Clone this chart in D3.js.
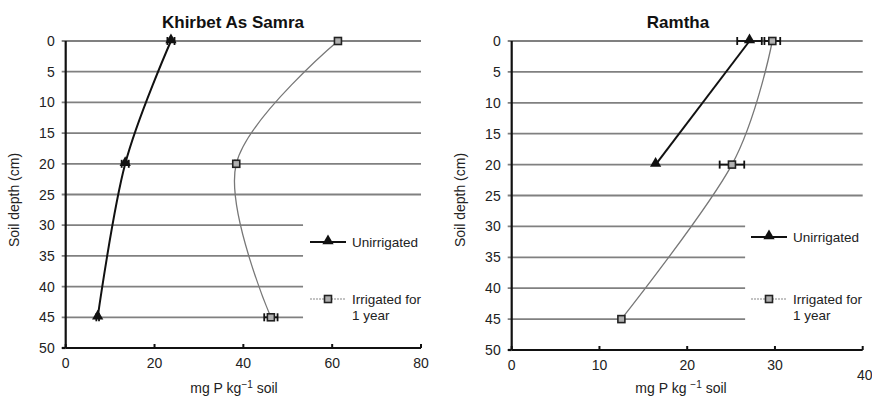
<!DOCTYPE html>
<html>
<head>
<meta charset="utf-8">
<script src="https://cdn.jsdelivr.net/npm/d3@7"></script>
<style>
  body { margin: 0; background: #fff; }
  svg { font-family: "Liberation Sans", Arial, sans-serif; }
</style>
</head>
<body>
<div id="chart"></div>
<script>
// depth ticks shared by both panels
const depthTicks = [0, 5, 10, 15, 20, 25, 30, 35, 40, 45, 50];

// Khirbet As Samra
const samraDepths = [0, 20, 45];
const samraUnirrigated = [23.7, 13.4, 7.2];
const samraUnirrigatedErr = [0.8, 0.8, 0.3];
const samraIrrigated = [61.3, 38.4, 46.2];
const samraIrrigatedErr = [0.3, 0.3, 1.5];
const samraXTicks = [0, 20, 40, 60, 80];

// Ramtha
const ramthaUnirrDepths = [0, 20];
const ramthaUnirrigated = [27.1, 16.4];
const ramthaUnirrigatedErr = [1.4, 0];
const ramthaIrrDepths = [0, 20, 45];
const ramthaIrrigated = [29.7, 25.1, 12.5];
const ramthaIrrigatedErr = [0.9, 1.4, 0];
const ramthaXTicks = [0, 10, 20, 30, 40];

const W = 872, H = 398;
const svg = d3.select("#chart").append("svg")
    .attr("width", W)
    .attr("height", H);

function zip(depths, vals, errs) {
    return depths.map((d, i) => ({depth: d, value: vals[i], err: errs[i]}));
}

function drawPanel(opt) {
    const x = d3.scaleLinear().domain([0, opt.xMax]).range([opt.left, opt.right]);
    const y = d3.scaleLinear().domain([0, 50]).range([opt.top, opt.bottom]);
    const g = svg.append("g");

    // gridlines (lower ones stop short to make room for the legend)
    g.selectAll(".grid")
        .data(depthTicks.filter(d => d < 50))
        .enter().append("line")
        .attr("x1", opt.left - 4)
        .attr("x2", d => d <= 25 ? opt.right : opt.left + (opt.right - opt.left) * opt.shortFrac)
        .attr("y1", d => y(d))
        .attr("y2", d => y(d))
        .attr("stroke", "#808080")
        .attr("stroke-width", 1.8);

    // y axis
    g.append("line")
        .attr("x1", opt.left).attr("x2", opt.left)
        .attr("y1", opt.top).attr("y2", opt.bottom)
        .attr("stroke", "#111").attr("stroke-width", 2.2);
    g.append("line")
        .attr("x1", opt.left - 4).attr("x2", opt.left)
        .attr("y1", opt.bottom).attr("y2", opt.bottom)
        .attr("stroke", "#111").attr("stroke-width", 2.2);
    g.selectAll(".ylab")
        .data(depthTicks)
        .enter().append("text")
        .attr("x", opt.left - 11)
        .attr("y", d => y(d))
        .attr("dy", "0.36em")
        .attr("text-anchor", "end")
        .attr("font-size", 14)
        .attr("fill", "#222")
        .text(d => d);

    // x axis
    g.append("line")
        .attr("x1", opt.left).attr("x2", opt.right)
        .attr("y1", opt.bottom).attr("y2", opt.bottom)
        .attr("stroke", "#111").attr("stroke-width", 2.2);
    g.selectAll(".xtick")
        .data(opt.xTicks)
        .enter().append("line")
        .attr("x1", d => x(d)).attr("x2", d => x(d))
        .attr("y1", opt.bottom).attr("y2", opt.bottom - 4)
        .attr("stroke", "#111").attr("stroke-width", 2);
    g.selectAll(".xlab")
        .data(opt.xTicks)
        .enter().append("text")
        .attr("x", (d, i) => x(d) + (opt.lastOffset && i === opt.xTicks.length - 1 ? 2 : 0))
        .attr("y", (d, i) => opt.bottom + 20 + (opt.lastOffset && i === opt.xTicks.length - 1 ? opt.lastOffset : 0))
        .attr("text-anchor", "middle")
        .attr("font-size", 14)
        .attr("fill", "#222")
        .text(d => d);

    // titles
    g.append("text")
        .attr("x", opt.titleX).attr("y", 28)
        .attr("text-anchor", "middle")
        .attr("font-size", 17).attr("font-weight", "bold")
        .attr("fill", "#111")
        .text(opt.title);

    const xt = g.append("text")
        .attr("x", opt.xTitleX).attr("y", 393)
        .attr("text-anchor", "middle")
        .attr("font-size", 14)
        .attr("fill", "#222");
    xt.append("tspan").text(opt.kgSpace ? "mg P kg " : "mg P kg");
    xt.append("tspan").attr("dy", -5).attr("font-size", 10).text("\u22121");
    xt.append("tspan").attr("dy", 5).text(" soil");

    g.append("text")
        .attr("transform", `translate(${opt.yTitleX},200) rotate(-90)`)
        .attr("text-anchor", "middle")
        .attr("font-size", 14)
        .attr("fill", "#222")
        .text("Soil depth (cm)");

    const line = d3.line()
        .x(d => x(d.value))
        .y(d => y(d.depth));

    // irrigated series (smoothed, grey)
    g.append("path")
        .datum(opt.irr)
        .attr("d", line.curve(d3.curveCatmullRom.alpha(0)))
        .attr("fill", "none")
        .attr("stroke", "#777")
        .attr("stroke-width", 1.3);

    // unirrigated series (black)
    g.append("path")
        .datum(opt.unirr)
        .attr("d", line.curve(opt.unirr.length > 2 ? d3.curveCatmullRom.alpha(0) : d3.curveLinear))
        .attr("fill", "none")
        .attr("stroke", "#111")
        .attr("stroke-width", 2);

    // error bars
    const allPts = opt.irr.concat(opt.unirr).filter(d => d.err > 0);
    const eb = g.selectAll(".eb").data(allPts).enter().append("g");
    eb.append("line")
        .attr("x1", d => x(d.value - d.err)).attr("x2", d => x(d.value + d.err))
        .attr("y1", d => y(d.depth)).attr("y2", d => y(d.depth))
        .attr("stroke", "#111").attr("stroke-width", 1.8);
    eb.append("line")
        .attr("x1", d => x(d.value - d.err)).attr("x2", d => x(d.value - d.err))
        .attr("y1", d => y(d.depth) - 4).attr("y2", d => y(d.depth) + 4)
        .attr("stroke", "#111").attr("stroke-width", 1.8);
    eb.append("line")
        .attr("x1", d => x(d.value + d.err)).attr("x2", d => x(d.value + d.err))
        .attr("y1", d => y(d.depth) - 4).attr("y2", d => y(d.depth) + 4)
        .attr("stroke", "#111").attr("stroke-width", 1.8);

    const tri = d3.symbol().type(d3.symbolTriangle).size(55);

    g.selectAll(".sq")
        .data(opt.irr)
        .enter().append("rect")
        .attr("x", d => x(d.value) - 3.5)
        .attr("y", d => y(d.depth) - 3.5)
        .attr("width", 7).attr("height", 7)
        .attr("fill", "#b0b0b0")
        .attr("stroke", "#222")
        .attr("stroke-width", 1.6);

    g.selectAll(".tri")
        .data(opt.unirr)
        .enter().append("path")
        .attr("d", tri)
        .attr("transform", d => `translate(${x(d.value)},${y(d.depth) - 1})`)
        .attr("fill", "#111");

    // legend
    const lg = g.append("g").attr("transform", `translate(${opt.legendX},0)`);
    lg.append("line")
        .attr("x1", 0).attr("x2", 36)
        .attr("y1", opt.legendY1).attr("y2", opt.legendY1)
        .attr("stroke", "#111").attr("stroke-width", 2);
    lg.append("path")
        .attr("d", tri)
        .attr("transform", `translate(18,${opt.legendY1 - 1})`)
        .attr("fill", "#111");
    lg.append("text")
        .attr("x", 42).attr("y", opt.legendY1).attr("dy", "0.35em")
        .attr("font-size", 13.5).attr("fill", "#222")
        .text("Unirrigated");

    lg.append("line")
        .attr("x1", 0).attr("x2", 36)
        .attr("y1", opt.legendY2).attr("y2", opt.legendY2)
        .attr("stroke", "#888").attr("stroke-width", 1.2)
        .attr("stroke-dasharray", "2,1");
    lg.append("rect")
        .attr("x", 14.5).attr("y", opt.legendY2 - 3.5)
        .attr("width", 7).attr("height", 7)
        .attr("fill", "#b0b0b0").attr("stroke", "#222").attr("stroke-width", 1.6);
    const t2 = lg.append("text")
        .attr("x", 42).attr("y", opt.legendY2).attr("dy", "0.35em")
        .attr("font-size", 13.5).attr("fill", "#222");
    t2.append("tspan").text("Irrigated for");
    t2.append("tspan").attr("x", 42).attr("dy", 16).text("1 year");
}

drawPanel({
    title: "Khirbet As Samra", titleX: 233,
    left: 65.7, right: 421, top: 41, bottom: 348,
    xMax: 80, xTicks: samraXTicks, shortFrac: 0.668,
    xTitleX: 234, yTitleX: 19, kgSpace: false,
    unirr: zip(samraDepths, samraUnirrigated, samraUnirrigatedErr),
    irr: zip(samraDepths, samraIrrigated, samraIrrigatedErr),
    legendX: 310, legendY1: 242, legendY2: 299
});

drawPanel({
    title: "Ramtha", titleX: 678,
    left: 511.7, right: 862.7, top: 41, bottom: 350,
    xMax: 40, xTicks: ramthaXTicks, shortFrac: 0.665,
    xTitleX: 681, yTitleX: 465, kgSpace: true, lastOffset: 10,
    unirr: zip(ramthaUnirrDepths, ramthaUnirrigated, ramthaUnirrigatedErr),
    irr: zip(ramthaIrrDepths, ramthaIrrigated, ramthaIrrigatedErr),
    legendX: 751, legendY1: 237, legendY2: 299
});
</script>
</body>
</html>
